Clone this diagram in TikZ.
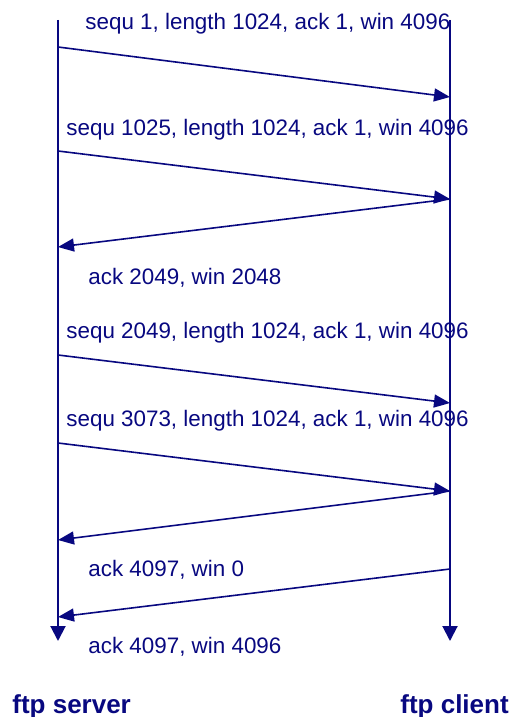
\documentclass[tikz,border=0pt]{standalone}
\usepackage{fontspec}
\setmainfont{Liberation Sans}
\usetikzlibrary{arrows.meta}
\definecolor{msgblue}{RGB}{8,8,128}

\begin{document}
\begin{tikzpicture}[x=0.5pt,y=-0.5pt]
			\tikzset{life line/.style={draw=msgblue,line width=1pt,-{Triangle[length=7.5pt,width=7.5pt]}},
				msg/.style={draw=msgblue,line width=0.8pt,-{Triangle[length=8pt,width=6.5pt]}},
				msg label/.style={anchor=base west,inner sep=0pt,text=msgblue,font=\fontsize{11.2}{13}\selectfont},
				host/.style={anchor=base west,inner sep=0pt,text=msgblue,font=\fontsize{13}{15}\selectfont\bfseries}}
			\useasboundingbox (0,0) rectangle (512,717);
			
			% lifelines
			\coordinate (srv top) at (58,20);
			\coordinate (srv end) at (58,641);
			\coordinate (cli top) at (450,20);
			\coordinate (cli end) at (450,641);
			\draw[life line] (srv top) -- (srv end);
			\draw[life line] (cli top) -- (cli end);
			
			% message end points
			\coordinate (s1) at (58,47);   \coordinate (c1) at (450,97);
			\coordinate (s2) at (58,151);  \coordinate (c2) at (450,199);
			\coordinate (s3) at (58,247);
			\coordinate (s4) at (58,355);  \coordinate (c4) at (450,403);
			\coordinate (s5) at (58,443);  \coordinate (c5) at (450,491);
			\coordinate (s6) at (58,540);
			\coordinate (c7) at (450,569); \coordinate (s7) at (58,617);
			
			\draw[msg] (s1) -- (c1);
			\draw[msg] (s2) -- (c2);
			\draw[msg] (c2) -- (s3);
			\draw[msg] (s4) -- (c4);
			\draw[msg] (s5) -- (c5);
			\draw[msg] (c5) -- (s6);
			\draw[msg] (c7) -- (s7);
			
			\node[msg label] (l1) at (85,30) {sequ 1, length 1024, ack 1, win 4096};
			\node[msg label] (l2) at (66,135) {sequ 1025, length 1024, ack 1, win 4096};
			\node[msg label] (l3) at (88,284) {ack 2049, win 2048};
			\node[msg label] (l4) at (66,338) {sequ 2049, length 1024, ack 1, win 4096};
			\node[msg label] (l5) at (66,426) {sequ 3073, length 1024, ack 1, win 4096};
			\node[msg label] (l6) at (88,576) {ack 4097, win 0};
			\node[msg label] (l7) at (88,653) {ack 4097, win 4096};
			
			\node[host] (server) at (12,713) {ftp server};
			\node[host] (client) at (400,713) {ftp client};
\end{tikzpicture}
\end{document}
